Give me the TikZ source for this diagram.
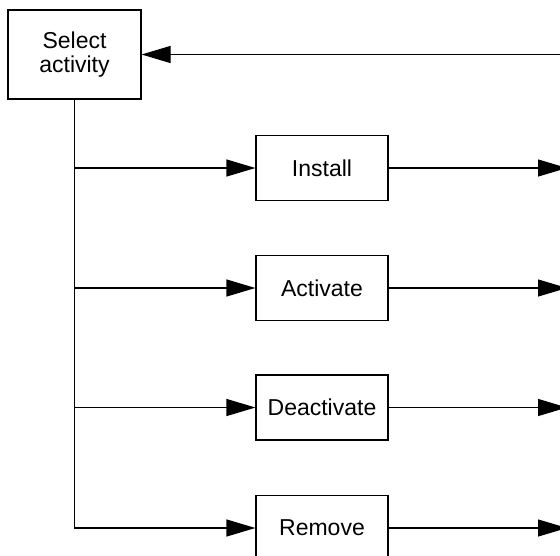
\documentclass[tikz,border=0pt]{standalone}
\usepackage{fontspec}
\setmainfont{Liberation Sans}
\usetikzlibrary{calc, shapes, arrows.meta}

\newcommand{\myfontbox}{\fontsize{23}{24}\selectfont}

\begin{document}
\begin{tikzpicture}[x=1pt, y=-1pt, line width=1.1pt,
	box/.style={draw, font=\myfontbox, minimum width=132pt, minimum height=65pt, inner sep=0pt},
	flow/.style={-{Triangle[length=29pt, width=17pt]}}]
	%Outer frame
	\useasboundingbox (0,0) rectangle (560,555);
	\clip (0,0) rectangle (560,555);
	%Start node
	\coordinate (centerSelect) at (74.5,54.5);
	\node [box, minimum width=133pt, minimum height=89pt, align=center] (select) at (centerSelect) {Select\\activity};
	%The four activities
	\coordinate (centerInstall) at (322,168);
	\coordinate (centerActivate) at (322,288);
	\coordinate (centerDeactivate) at (322,407.5);
	\coordinate (centerRemove) at (322,528);
	\node [box] (install) at (centerInstall) {Install};
	\node [box] (activate) at (centerActivate) {Activate};
	\node [box] (deactivate) at (centerDeactivate) {Deactivate};
	\node [box] (remove) at (centerRemove) {Remove};
	%Trunk down from the start node, with its branches
	\draw [flow] (select.south) |- (remove.west);
	\draw [flow] (select.south |- install.west) -- (install.west);
	\draw [flow] (select.south |- activate.west) -- (activate.west);
	\draw [flow] (select.south |- deactivate.west) -- (deactivate.west);
	%Outgoing arrows on the right
	\coordinate (outInstall) at (567,168);
	\coordinate (outActivate) at (567,288);
	\coordinate (outDeactivate) at (567,407.5);
	\coordinate (outRemove) at (567,528);
	\draw [flow] (install.east) -- (outInstall);
	\draw [flow] (activate.east) -- (outActivate);
	\draw [flow] (deactivate.east) -- (outDeactivate);
	\draw [flow] (remove.east) -- (outRemove);
	%Return arrow back to the start node
	\coordinate (back) at (565,54.5);
	\draw [flow] (back) -- (select.east);
\end{tikzpicture}
\end{document}
